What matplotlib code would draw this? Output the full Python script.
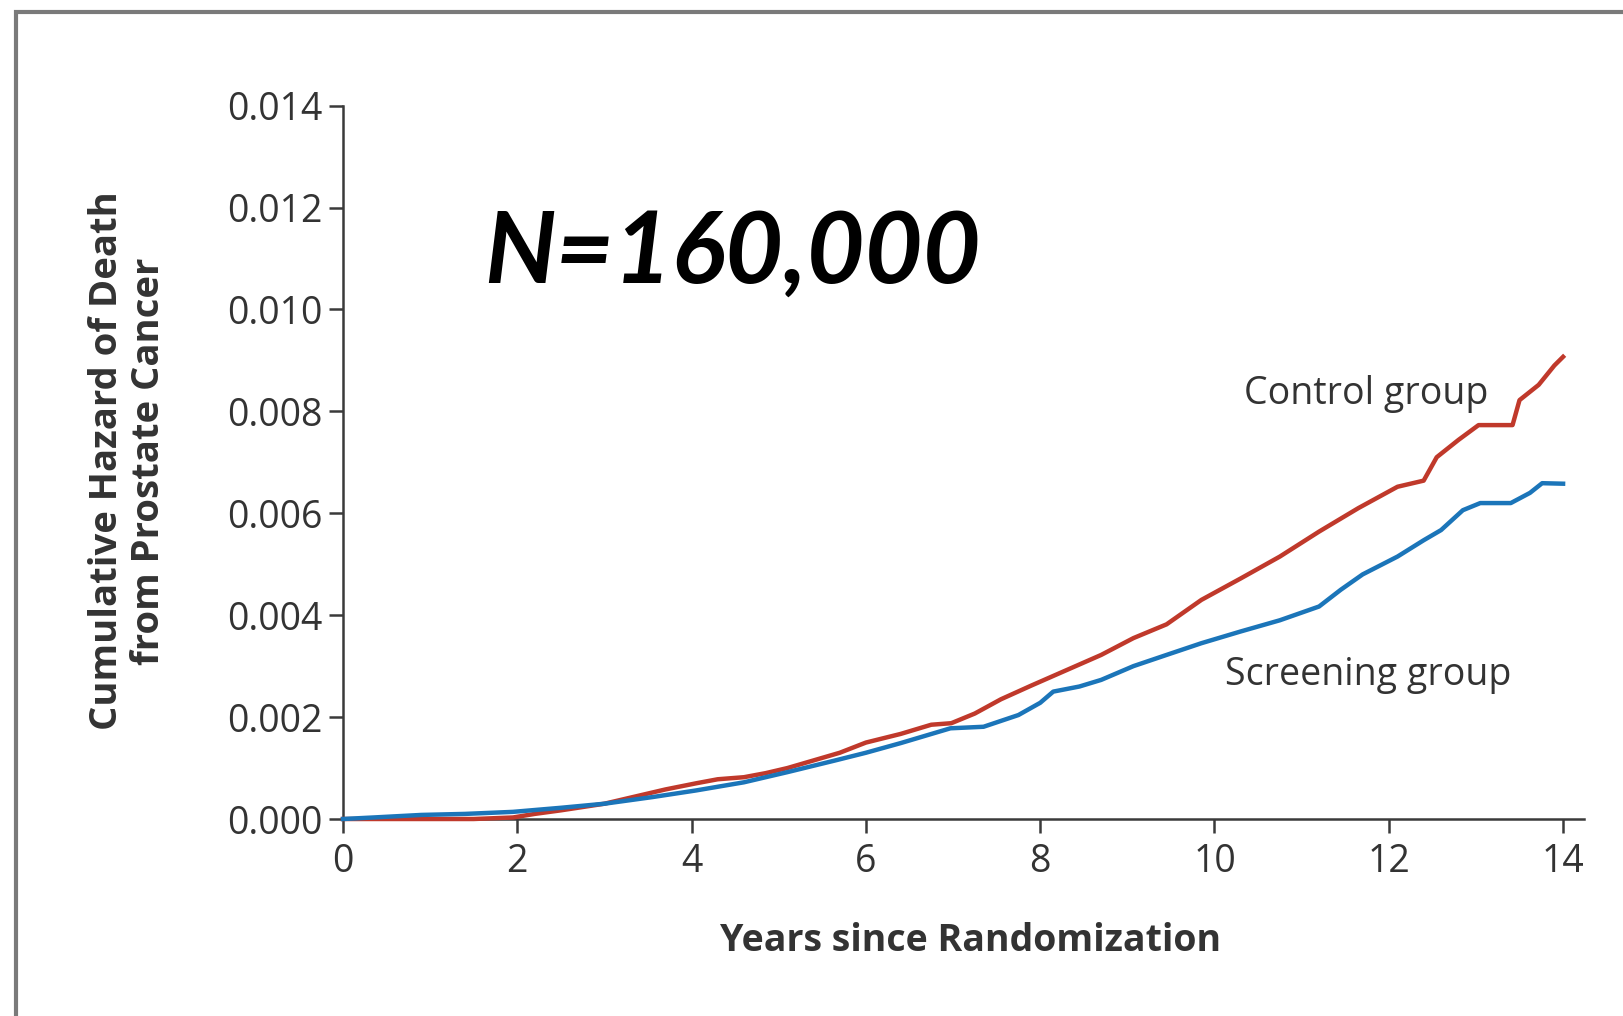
import matplotlib
matplotlib.use("Agg")
import matplotlib.pyplot as plt
from matplotlib.patches import Rectangle

# ---- data ----
control_years = [0, 0.5, 1.0, 1.5, 1.95, 2.2, 2.5, 3.0, 3.45, 3.7, 4.05, 4.3, 4.6, 4.85,
                 5.1, 5.4, 5.7, 6.0, 6.4, 6.75, 6.98, 7.25, 7.55, 7.9, 8.3, 8.7, 9.07,
                 9.45, 9.85, 10.3, 10.75, 11.2, 11.65, 12.1, 12.4, 12.55, 12.8, 13.03,
                 13.42, 13.5, 13.72, 13.9, 14.0]
control_hazard = [0, 0, 0, 0, 0.00003, 0.0001, 0.00017, 0.0003, 0.00048, 0.00058, 0.0007,
                  0.00078, 0.00082, 0.0009, 0.001, 0.00115, 0.0013, 0.0015, 0.00167,
                  0.00185, 0.00188, 0.00207, 0.00235, 0.00262, 0.00292, 0.00322, 0.00355,
                  0.00382, 0.0043, 0.00472, 0.00515, 0.00564, 0.0061, 0.00652, 0.00664,
                  0.0071, 0.00744, 0.00773, 0.00773, 0.00822, 0.00852, 0.0089, 0.00907]

screening_years = [0, 0.35, 0.9, 1.4, 1.95, 2.5, 3.0, 3.55, 4.05, 4.6, 5.1, 5.65, 6.0, 6.4,
                   6.97, 7.35, 7.75, 8.0, 8.15, 8.45, 8.7, 9.07, 9.45, 9.85, 10.3, 10.75,
                   11.2, 11.45, 11.7, 12.1, 12.4, 12.6, 12.85, 13.05, 13.4, 13.62, 13.76, 14.0]
screening_hazard = [0, 0.00003, 0.00008, 0.0001, 0.00014, 0.00022, 0.0003, 0.00043, 0.00056,
                    0.00072, 0.00092, 0.00115, 0.0013, 0.00149, 0.00178, 0.00181, 0.00204,
                    0.00228, 0.0025, 0.0026, 0.00273, 0.003, 0.00322, 0.00345, 0.00368,
                    0.0039, 0.00417, 0.0045, 0.0048, 0.00515, 0.00547, 0.00567, 0.00606,
                    0.0062, 0.0062, 0.0064, 0.00659, 0.00658]

x_ticks = [0, 2, 4, 6, 8, 10, 12, 14]
y_ticks = [0.000, 0.002, 0.004, 0.006, 0.008, 0.010, 0.012, 0.014]
y_tick_labels = ["0.000", "0.002", "0.004", "0.006", "0.008", "0.010", "0.012", "0.014"]

RED = "#C0392B"
BLUE = "#1B75B9"
AXC = "#3A3A3A"
TXT = "#333333"
FONT = "Open Sans"

W, H = 1624, 1016
fig = plt.figure(figsize=(W / 100, H / 100), dpi=100)
fig.patch.set_facecolor("white")

# outer frame (only top and left edges visible in the reference)
fig.add_artist(Rectangle((16 / W, -0.2), 1.3, 1.2 - 12 / H, transform=fig.transFigure,
                         fill=False, edgecolor="#7A7A7A", linewidth=3.0))

ax = fig.add_axes([343 / W, 1 - 819 / H, (1584 - 343) / W, (819 - 105.6) / H])
ax.plot(control_years, control_hazard, color=RED, lw=3.2, zorder=3, clip_on=False)
ax.plot(screening_years, screening_hazard, color=BLUE, lw=3.2, zorder=3, clip_on=False)

ax.set_xlim(0, 14.24)
ax.set_ylim(0, 0.014)
for s in ("top", "right"):
    ax.spines[s].set_visible(False)
for s in ("left", "bottom"):
    ax.spines[s].set_color(AXC)
    ax.spines[s].set_linewidth(1.8)

ax.set_xticks(x_ticks)
ax.set_xticklabels([str(v) for v in x_ticks])
ax.set_yticks(y_ticks)
ax.set_yticklabels(y_tick_labels)
ax.tick_params(axis="both", direction="out", length=10, width=1.8, color=AXC,
               labelsize=27, labelcolor=TXT)
ax.tick_params(axis="y", pad=5)
ax.tick_params(axis="x", pad=7)
for lab in ax.get_xticklabels() + ax.get_yticklabels():
    lab.set_fontfamily(FONT)

ax.text(10.34, 0.00834, "Control group", fontsize=27, family=FONT, color=TXT,
        ha="left", va="center")
ax.text(10.12, 0.00283, "Screening group", fontsize=27, family=FONT, color=TXT,
        ha="left", va="center")

fig.text(971 / W, 1 - 941 / H, "Years since Randomization", fontsize=27, family=FONT,
         fontweight="bold", color=TXT, ha="center", va="center")
fig.text(128 / W, 1 - 461 / H, "Cumulative Hazard of Death\nfrom Prostate Cancer",
         fontsize=27.5, family=FONT, fontweight="bold", color=TXT, rotation=90,
         ha="center", va="center", multialignment="center", linespacing=1.15)

fig.text(484 / W, 1 - 283 / H, "N=160,000", fontsize=72, family="Lato",
         fontweight="bold", fontstyle="italic", color="black", ha="left", va="baseline")

fig.savefig("out.png", dpi=100, facecolor="white")
